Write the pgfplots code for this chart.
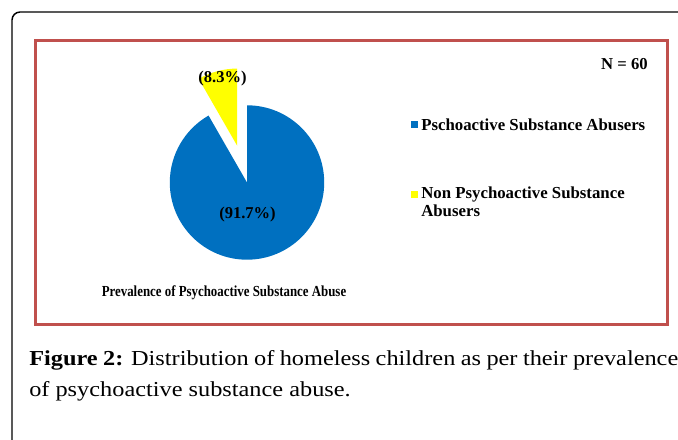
\documentclass[border=0pt]{standalone}
\usepackage{pgfplots}
\pgfplotsset{compat=1.18}
\usepackage{pgfplotstable}
\usepackage{fontspec}
\setmainfont{Liberation Serif}
\newfontfamily\capfont[FakeStretch=1.14]{Liberation Serif}
\usetikzlibrary{calc}
\definecolor{pieblue}{HTML}{0070C0}
\definecolor{pieyellow}{HTML}{FFFF00}
\definecolor{framered}{HTML}{C0504D}

\pgfplotstableread[col sep=comma]{
label,value
Pschoactive Substance Abusers,91.7
Non Psychoactive Substance Abusers,8.3
}\piedata
\pgfplotstablegetelem{0}{value}\of\piedata
\pgfmathsetmacro\va{\pgfplotsretval}
\pgfplotstablegetelem{1}{value}\of\piedata
\pgfmathsetmacro\vb{\pgfplotsretval}
\pgfmathsetmacro\da{-3.6*\va}
\pgfmathsetmacro\db{3.6*\vb}
\pgfmathsetmacro\ex{90+1.8*\vb}

\begin{document}
\begin{tikzpicture}
\begin{axis}[
  scale only axis, width=508.5pt, height=329.25pt,
  xmin=0, xmax=678, ymin=0, ymax=439, y dir=reverse,
  hide axis, clip=false,
]
\coordinate (sw) at (axis cs:0,439);
\coordinate (ne) at (axis cs:678,0);
\clip (axis cs:0,0) rectangle (axis cs:678,439);
% outer frame
\draw[black, line width=1.1pt, rounded corners=6pt]
  (axis cs:12,470) -- (axis cs:12,12) -- (axis cs:720,12);
% red frame
\draw[framered, line width=2.3pt] (axis cs:35.5,40.8) rectangle (axis cs:667.5,324.5);
% pie
\fill[pieblue] (axis cs:247,182.5) -- ++(90:57.9pt)
  arc[start angle=90, delta angle=\da, radius=57.9pt] -- cycle;
\fill[pieyellow] ($(axis cs:247,182.5)+(\ex:28.5pt)$) -- ++(90:57.9pt)
  arc[start angle=90, delta angle=\db, radius=57.9pt] -- cycle;
% labels
\node[font=\fontsize{12.4}{14}\selectfont\bfseries] at (axis cs:222.5,79) {(8.3\%)};
\node[font=\fontsize{12.4}{14}\selectfont\bfseries] at (axis cs:247.5,215) {(91.7\%)};
\node[font=\fontsize{12.5}{14}\selectfont\bfseries, anchor=east, inner sep=0pt] at (axis cs:648,64) {N = 60};
% legend
\fill[pieblue] (axis cs:411,121) rectangle (axis cs:418,128);
\fill[pieyellow] (axis cs:411,191) rectangle (axis cs:418,198);
\node[font=\fontsize{12.6}{13.5}\selectfont\bfseries, anchor=west, inner sep=0pt] at (axis cs:421,124.5) {Pschoactive Substance Abusers};
\node[font=\fontsize{12.6}{13.5}\selectfont\bfseries, anchor=north west, inner sep=0pt, align=left] at (axis cs:421,187) {Non Psychoactive Substance\\Abusers};
\node[font=\fontsize{11.5}{13}\selectfont\bfseries] at (axis cs:224,293) {\scalebox{0.84}[1]{Prevalence of Psychoactive Substance Abuse}};
% caption
\node[anchor=north west, inner sep=0pt, text width=486.75pt, align=justify,
  font=\capfont\fontsize{16}{23.25}\selectfont] at (axis cs:29,350)
  {\textbf{Figure 2:} Distribution of homeless children as per their prevalence\linebreak of psychoactive substance abuse.};
\end{axis}
\pgfresetboundingbox
\path[use as bounding box] (sw) rectangle (ne);
\end{tikzpicture}
\end{document}
